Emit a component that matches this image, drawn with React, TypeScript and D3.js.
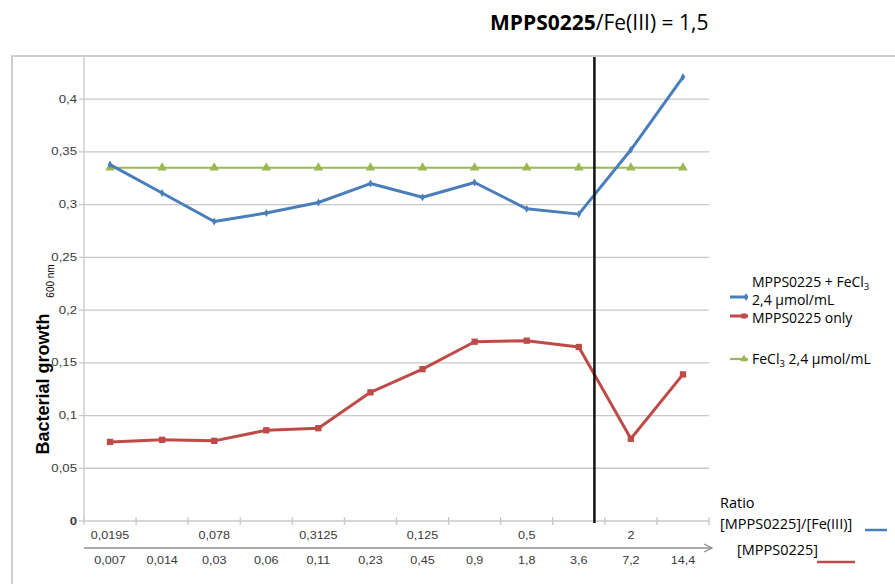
import React from "react";
import * as d3 from "d3";

const concentrations = ["0,007", "0,014", "0,03", "0,06", "0,11", "0,23", "0,45", "0,9", "1,8", "3,6", "7,2", "14,4"];
const ratioLabels = ["0,0195", "0,078", "0,3125", "0,125", "0,5", "2"];
const ratioAt = ["0,007", "0,03", "0,11", "0,45", "1,8", "7,2"];
const withFe = [0.338, 0.311, 0.284, 0.292, 0.302, 0.32, 0.307, 0.321, 0.296, 0.291, 0.352, 0.421];
const onlyMpps = [0.075, 0.077, 0.076, 0.086, 0.088, 0.122, 0.144, 0.17, 0.171, 0.165, 0.078, 0.139];
const feOnly = [0.335, 0.335, 0.335, 0.335, 0.335, 0.335, 0.335, 0.335, 0.335, 0.335, 0.335, 0.335];
const yTicks = [0, 0.05, 0.1, 0.15, 0.2, 0.25, 0.3, 0.35, 0.4];

const BLUE = "#4a7ebb";
const RED = "#be4b48";
const GREEN = "#98b954";
const GRID = "#c8c8c8";
const LABEL = "#3a3a3a";
const FONT = "'Open Sans', sans-serif";
const AX = "Arial, 'Liberation Sans', sans-serif";

export default function App() {
  const x = d3.scaleBand().domain(concentrations).range([84, 709]);
  const y = d3.scaleLinear().domain([0, 0.44]).range([521, 57]);
  const cx = (c: string) => (x(c) as number) + x.bandwidth() / 2;
  const line = d3
    .line<number>()
    .x((_, i) => cx(concentrations[i]))
    .y((d) => y(d));
  const fmt = (v: number) => (v === 0 ? "0" : String(v).replace(".", ","));
  const bounds = concentrations.map((c) => x(c) as number).concat([x.range()[1]]);
  const sepX = (x("3,6") as number) + x.bandwidth() * 0.8;
  const tri = d3.symbol(d3.symbolTriangle, 40)() as string;
  const sq = d3.symbol(d3.symbolSquare, 40)() as string;
  const dia = d3.symbol(d3.symbolDiamond, 18)() as string;

  return (
    <svg width={895} height={584} style={{ position: "absolute", left: 0, top: 0, background: "#fff" }}>
      <text x={490} y={30} fontFamily={FONT} fontSize={21} fill="#000">
        <tspan fontWeight="bold">MPPS0225</tspan>
        <tspan>/Fe(III) = 1,5</tspan>
      </text>
      <rect x={12} y={56} width={900} height={560} fill="none" stroke="#c0c0c0" strokeWidth={1.5} />

      {yTicks.map((t) => (
        <g key={t}>
          {t > 0 && <line x1={84} x2={709} y1={y(t)} y2={y(t)} stroke={GRID} strokeWidth={1.3} />}
          <line x1={79} x2={84} y1={y(t)} y2={y(t)} stroke={GRID} strokeWidth={1.3} />
          <text
            transform={`translate(77,${y(t) + 3.5}) scale(1.2,1)`}
            textAnchor="end"
            fontFamily={AX}
            fontSize={11}
            fill={LABEL}
            fontWeight={t === 0 ? "bold" : "normal"}
          >
            {fmt(t)}
          </text>
        </g>
      ))}
      <line x1={84} x2={84} y1={57} y2={521} stroke={GRID} strokeWidth={1.3} />
      <line x1={84} x2={709} y1={521} y2={521} stroke={GRID} strokeWidth={1.3} />
      {bounds.map((b, i) => (
        <line key={i} x1={b} x2={b} y1={517} y2={525} stroke={GRID} strokeWidth={1.3} />
      ))}

      {ratioLabels.map((r, i) => (
        <text
          key={r}
          transform={`translate(${cx(ratioAt[i])},539) scale(1.2,1)`}
          textAnchor="middle"
          fontFamily={AX}
          fontSize={10.5}
          fill={LABEL}
        >
          {r}
        </text>
      ))}
      <line x1={84} x2={711} y1={548} y2={548} stroke="#8c8c8c" strokeWidth={1.3} />
      <path d="M704,544 L712,548 L704,552" fill="none" stroke="#8c8c8c" strokeWidth={1.3} />
      {concentrations.map((c) => (
        <text
          key={c}
          transform={`translate(${cx(c)},564) scale(1.2,1)`}
          textAnchor="middle"
          fontFamily={AX}
          fontSize={10.5}
          fill={LABEL}
        >
          {c}
        </text>
      ))}

      <text transform="translate(49,384) rotate(-90)" textAnchor="middle" fontFamily={AX} fontSize={18} fontWeight="bold" fill="#000">
        Bacterial growth
      </text>
      <text transform="translate(54,281) rotate(-90)" textAnchor="middle" fontFamily={AX} fontSize={10} fill="#000">
        600 nm
      </text>

      <path d={line(feOnly) as string} fill="none" stroke={GREEN} strokeWidth={2.2} />
      {feOnly.map((v, i) => (
        <path key={i} d={tri} transform={`translate(${cx(concentrations[i])},${y(v)})`} fill={GREEN} />
      ))}
      <path d={line(withFe) as string} fill="none" stroke={BLUE} strokeWidth={3} strokeLinejoin="round" />
      {withFe.map((v, i) => (
        <path key={i} d={dia} transform={`translate(${cx(concentrations[i])},${y(v)})`} fill={BLUE} />
      ))}
      <path d={line(onlyMpps) as string} fill="none" stroke={RED} strokeWidth={3} strokeLinejoin="round" />
      {onlyMpps.map((v, i) => (
        <path key={i} d={sq} transform={`translate(${cx(concentrations[i])},${y(v)})`} fill={RED} />
      ))}

      <line x1={sepX} x2={sepX} y1={57} y2={523} stroke="#111" strokeWidth={2.5} />

      <line x1={730} x2={748} y1={297} y2={297} stroke={BLUE} strokeWidth={3} />
      <path d={dia} transform="translate(746,297)" fill={BLUE} />
      <text x={752} y={287} fontFamily={FONT} fontSize={14} fill="#000">
        MPPS0225 + FeCl<tspan fontSize={9.5} dy={3}>3</tspan>
      </text>
      <text x={752} y={305} fontFamily={FONT} fontSize={14} fill="#000">2,4 µmol/mL</text>
      <line x1={730} x2={748} y1={316} y2={316} stroke={RED} strokeWidth={3} />
      <path d={sq} transform="translate(744,316) scale(0.8)" fill={RED} />
      <text x={752} y={323} fontFamily={FONT} fontSize={14} fill="#000">MPPS0225 only</text>
      <line x1={730} x2={748} y1={359} y2={359} stroke={GREEN} strokeWidth={2.2} />
      <path d={tri} transform="translate(744,359) scale(0.8)" fill={GREEN} />
      <text x={752} y={364} fontFamily={FONT} fontSize={14} fill="#000">
        FeCl<tspan fontSize={9.5} dy={3}>3</tspan>
        <tspan dy={-3}> 2,4 µmol/mL</tspan>
      </text>

      <text x={720} y={508} fontFamily={FONT} fontSize={14.5} fill="#000">Ratio</text>
      <text x={720} y={529} fontFamily={FONT} fontSize={14.5} fill="#000">[MPPS0225]/[Fe(III)]</text>
      <line x1={865} x2={887} y1={530} y2={530} stroke={BLUE} strokeWidth={2.5} />
      <text x={737} y={555} fontFamily={FONT} fontSize={14.5} fill="#000">[MPPS0225]</text>
      <line x1={817} x2={855} y1={562} y2={562} stroke={RED} strokeWidth={2.5} />
    </svg>
  );
}
